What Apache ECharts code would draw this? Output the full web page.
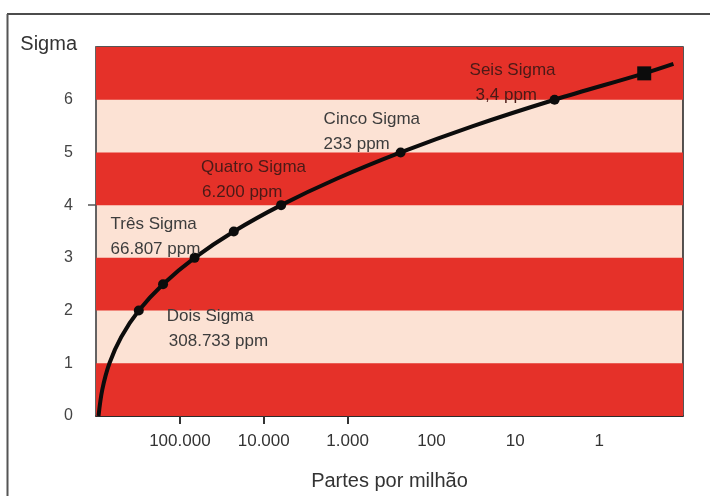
<!DOCTYPE html>
<html>
<head>
<meta charset="utf-8">
<script src="https://cdn.jsdelivr.net/npm/echarts@6/dist/echarts.min.js"></script>
<style>
  html, body { margin: 0; padding: 0; background: #ffffff; }
  #chart { width: 710px; height: 496px; }
</style>
</head>
<body>
<div id="chart"></div>
<script>
// Sigma level versus defects in parts per million (1.5 sigma shift table)
const sigmaLevels = [0, 0.5, 1, 1.5, 2, 2.5, 3, 3.5, 4, 4.5, 5, 5.5, 6, 6.5, 6.68];
const ppmValues   = [933193, 841345, 691462, 500000, 308733, 158655, 66807, 22750, 6200, 1350, 233, 32, 3.4, 0.29, 0.13];

// Points drawn with a dot, and the one drawn with a square
const dotSigmas = [2, 2.5, 3, 3.5, 4, 5, 6];
const squareSigma = 6.5;

// Annotated sigma levels
const noteSigmas = [2, 3, 4, 5, 6];
const noteNames  = ['Dois Sigma', 'Três Sigma', 'Quatro Sigma', 'Cinco Sigma', 'Seis Sigma'];
const notePpm    = ['308.733 ppm', '66.807 ppm', '6.200 ppm', '233 ppm', '3,4 ppm'];

// Axis ticks
const xTickValues = [100000, 10000, 1000, 100, 10, 1];
const xTickLabels = ['100.000', '10.000', '1.000', '100', '10', '1'];
const xTickMarks  = [100000, 10000, 1000];
const yTickValues = [0, 1, 2, 3, 4, 5, 6];

// Alternating horizontal bands (red ones; the rest is the light background)
const redBands = [[0, 1], [2, 3], [4, 5], [6, 7]];

const RED = '#e53129';
const PINK = '#fce2d4';
const FONT = '"Liberation Sans", Arial, Helvetica, sans-serif';

// label placement for each annotation, relative to its point
const notePlacement = {
  2: { offset: [28, -7],  color: '#3c3c3c', indent: 2 },
  3: { offset: [-84, -46], color: '#3c3c3c', indent: 0 },
  4: { offset: [-80, -50], color: '#4a1a17', indent: 1 },
  5: { offset: [-77, -46], color: '#3c3c3c', indent: 0 },
  6: { offset: [-85, -42], color: '#4a1a17', indent: 6 }
};

const curveData = sigmaLevels.map(function (s, i) {
  const item = { value: [ppmValues[i], s] };
  if (s === squareSigma) {
    item.symbol = 'rect';
    item.symbolSize = 14;
  } else if (dotSigmas.indexOf(s) >= 0) {
    item.symbol = 'circle';
    item.symbolSize = 10;
  } else {
    item.symbol = 'none';
  }
  const n = noteSigmas.indexOf(s);
  if (n >= 0) {
    const p = notePlacement[s];
    item.label = {
      show: true,
      position: 'inside',
      align: 'left',
      verticalAlign: 'top',
      offset: p.offset,
      formatter: '{n|' + noteNames[n] + '}\n{v|' + notePpm[n] + '}',
      rich: {
        n: { fontFamily: FONT, fontSize: 17, color: p.color, lineHeight: 25 },
        v: { fontFamily: FONT, fontSize: 17, color: p.color, lineHeight: 25, padding: [0, 0, 0, p.indent] }
      }
    };
  }
  return item;
});

const chart = echarts.init(document.getElementById('chart'), null, { renderer: 'canvas' });

chart.setOption({
  animation: false,
  backgroundColor: '#ffffff',
  grid: {
    left: 96, right: 27, top: 47, bottom: 77,
    show: true,
    backgroundColor: PINK,
    borderColor: '#1e1e1e',
    borderWidth: 1.5
  },
  xAxis: {
    type: 'log',
    logBase: 10,
    min: 0.1,
    max: 1000000,
    inverse: true,
    name: 'Partes por milhão',
    nameLocation: 'middle',
    nameGap: 55,
    nameTextStyle: { fontFamily: FONT, fontSize: 20, color: '#333333' },
    axisLine: { show: true, lineStyle: { color: '#1e1e1e', width: 1.5 } },
    axisTick: {
      show: true, inside: false, length: 8,
      customValues: xTickMarks,
      lineStyle: { color: '#333333', width: 2 }
    },
    axisLabel: {
      show: true,
      customValues: xTickValues,
      margin: 17,
      fontFamily: FONT, fontSize: 17, color: '#333333',
      formatter: function (v) {
        const i = xTickValues.findIndex(function (t) { return Math.abs(Math.log10(t) - Math.log10(v)) < 1e-6; });
        return i >= 0 ? xTickLabels[i] : '';
      }
    },
    splitLine: { show: false },
    minorTick: { show: false }
  },
  yAxis: {
    type: 'value',
    min: 0,
    max: 7,
    interval: 1,
    name: 'Sigma',
    nameLocation: 'end',
    nameGap: 3,
    nameTextStyle: { fontFamily: FONT, fontSize: 20, color: '#333333', align: 'right', verticalAlign: 'middle', padding: [0, 19, 0, 0] },
    axisLine: { show: true, lineStyle: { color: '#6a6a6a', width: 1.5 } },
    axisTick: { show: true, length: 8, customValues: [4], lineStyle: { color: '#555555', width: 1.5 } },
    axisLabel: {
      show: true,
      customValues: yTickValues,
      margin: 23,
      fontFamily: FONT, fontSize: 16, color: '#444444'
    },
    splitLine: { show: false }
  },
  graphic: [
    { type: 'line', shape: { x1: 7, y1: 14, x2: 710, y2: 14 }, style: { stroke: '#111111', lineWidth: 1.5 }, silent: true },
    { type: 'line', shape: { x1: 7.5, y1: 14, x2: 7.5, y2: 496 }, style: { stroke: '#555555', lineWidth: 2 }, silent: true }
  ],
  series: [
    {
      name: 'bands',
      type: 'line',
      data: [],
      z: 1,
      silent: true,
      markArea: {
        silent: true,
        itemStyle: { color: RED },
        data: redBands.map(function (b) { return [{ yAxis: b[0] }, { yAxis: b[1] }]; })
      }
    },
    {
      name: 'sigma',
      type: 'line',
      z: 5,
      smooth: 0.35,
      showAllSymbol: true,
      lineStyle: { color: '#0c0c0c', width: 4 },
      itemStyle: { color: '#0c0c0c' },
      data: curveData
    }
  ]
});
</script>
</body>
</html>
